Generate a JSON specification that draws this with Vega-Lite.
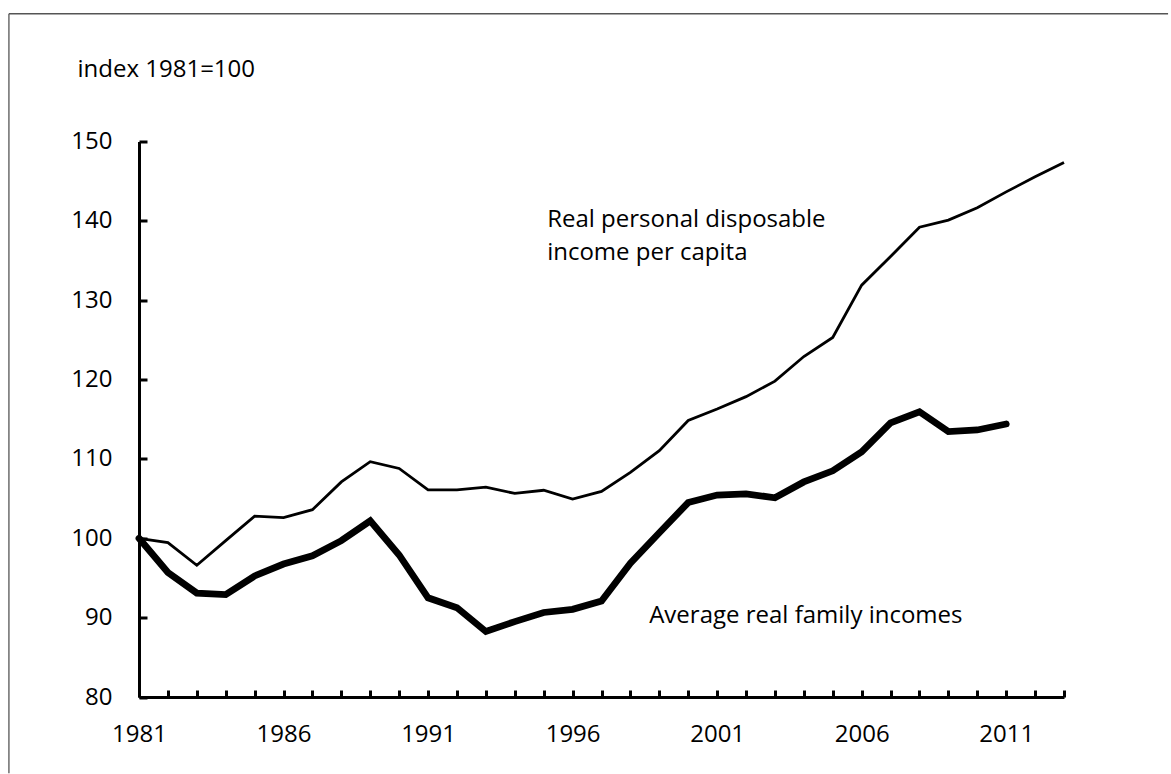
{
  "$schema": "https://vega.github.io/schema/vega-lite/v6.json",
  "width": 925,
  "height": 555.5,
  "autosize": {"type": "none"},
  "padding": {"left": 139, "top": 141.5, "right": 107, "bottom": 77},
  "background": "white",
  "config": {
    "view": {"stroke": null},
    "font": "Open Sans",
    "text": {"font": "Open Sans"}
  },
  "datasets": {
    "income": [
      {"year": 1981, "series": "disp", "value": 100},
      {"year": 1982, "series": "disp", "value": 99.45},
      {"year": 1983, "series": "disp", "value": 96.6},
      {"year": 1984, "series": "disp", "value": 99.7},
      {"year": 1985, "series": "disp", "value": 102.8},
      {"year": 1986, "series": "disp", "value": 102.6},
      {"year": 1987, "series": "disp", "value": 103.6},
      {"year": 1988, "series": "disp", "value": 107.1},
      {"year": 1989, "series": "disp", "value": 109.65},
      {"year": 1990, "series": "disp", "value": 108.8},
      {"year": 1991, "series": "disp", "value": 106.1},
      {"year": 1992, "series": "disp", "value": 106.1},
      {"year": 1993, "series": "disp", "value": 106.45},
      {"year": 1994, "series": "disp", "value": 105.65},
      {"year": 1995, "series": "disp", "value": 106.05},
      {"year": 1996, "series": "disp", "value": 104.95},
      {"year": 1997, "series": "disp", "value": 105.9},
      {"year": 1998, "series": "disp", "value": 108.3},
      {"year": 1999, "series": "disp", "value": 111.05},
      {"year": 2000, "series": "disp", "value": 114.85},
      {"year": 2001, "series": "disp", "value": 116.3},
      {"year": 2002, "series": "disp", "value": 117.85},
      {"year": 2003, "series": "disp", "value": 119.8},
      {"year": 2004, "series": "disp", "value": 122.9},
      {"year": 2005, "series": "disp", "value": 125.3},
      {"year": 2006, "series": "disp", "value": 131.9},
      {"year": 2007, "series": "disp", "value": 135.5},
      {"year": 2008, "series": "disp", "value": 139.2},
      {"year": 2009, "series": "disp", "value": 140.1},
      {"year": 2010, "series": "disp", "value": 141.65},
      {"year": 2011, "series": "disp", "value": 143.65},
      {"year": 2012, "series": "disp", "value": 145.55},
      {"year": 2013, "series": "disp", "value": 147.35},
      {"year": 1981, "series": "family", "value": 100},
      {"year": 1982, "series": "family", "value": 95.7},
      {"year": 1983, "series": "family", "value": 93.1},
      {"year": 1984, "series": "family", "value": 92.9},
      {"year": 1985, "series": "family", "value": 95.25},
      {"year": 1986, "series": "family", "value": 96.75},
      {"year": 1987, "series": "family", "value": 97.8},
      {"year": 1988, "series": "family", "value": 99.7},
      {"year": 1989, "series": "family", "value": 102.2},
      {"year": 1990, "series": "family", "value": 97.9},
      {"year": 1991, "series": "family", "value": 92.5},
      {"year": 1992, "series": "family", "value": 91.25},
      {"year": 1993, "series": "family", "value": 88.25},
      {"year": 1994, "series": "family", "value": 89.5},
      {"year": 1995, "series": "family", "value": 90.65},
      {"year": 1996, "series": "family", "value": 91.05},
      {"year": 1997, "series": "family", "value": 92.1},
      {"year": 1998, "series": "family", "value": 96.85},
      {"year": 1999, "series": "family", "value": 100.7},
      {"year": 2000, "series": "family", "value": 104.5},
      {"year": 2001, "series": "family", "value": 105.45},
      {"year": 2002, "series": "family", "value": 105.6},
      {"year": 2003, "series": "family", "value": 105.1},
      {"year": 2004, "series": "family", "value": 107.1},
      {"year": 2005, "series": "family", "value": 108.5},
      {"year": 2006, "series": "family", "value": 110.9},
      {"year": 2007, "series": "family", "value": 114.55},
      {"year": 2008, "series": "family", "value": 115.95},
      {"year": 2009, "series": "family", "value": 113.45},
      {"year": 2010, "series": "family", "value": 113.65},
      {"year": 2011, "series": "family", "value": 114.4}
    ],
    "labels": [
      {"name": "disp", "text": ["Real personal disposable", "income per capita"]},
      {"name": "family", "text": "Average real family incomes"}
    ]
  },
  "layer": [
    {
      "data": {"name": "income"},
      "transform": [{"filter": "datum.series == 'disp'"}],
      "mark": {"type": "line", "color": "black", "strokeWidth": 2.8, "clip": false},
      "encoding": {
        "x": {
          "field": "year",
          "type": "quantitative",
          "scale": {"domain": [1981, 2013], "nice": false, "zero": false},
          "axis": {
            "title": null,
            "grid": false,
            "values": [1981,1982,1983,1984,1985,1986,1987,1988,1989,1990,1991,1992,1993,1994,1995,1996,1997,1998,1999,2000,2001,2002,2003,2004,2005,2006,2007,2008,2009,2010,2011,2012,2013],
            "tickCount": 60,
            "labelExpr": "(datum.value - 1981) % 5 == 0 ? datum.label : ''",
            "format": "d",
            "labelFlush": false,
            "labelOverlap": false,
            "domainColor": "black",
            "domainWidth": 3,
            "tickColor": "black",
            "tickWidth": 3,
            "tickSize": -7,
            "labelFontSize": 24,
            "labelColor": "black",
            "labelPadding": 32
          }
        },
        "y": {
          "field": "value",
          "type": "quantitative",
          "scale": {"domain": [80, 150], "nice": false, "zero": false},
          "axis": {
            "values": [80, 90, 100, 110, 120, 130, 140, 150],
            "tickCount": 20,
            "grid": false,
            "domainColor": "black",
            "domainWidth": 3,
            "tickColor": "black",
            "tickWidth": 3,
            "tickSize": -8,
            "labelFontSize": 24,
            "labelColor": "black",
            "labelPadding": 35,
            "title": "index 1981=100",
            "titleAngle": 0,
            "titleAlign": "left",
            "titleBaseline": "alphabetic",
            "titleX": -62,
            "titleY": -65.5,
            "titleFontSize": 24,
            "titleFontWeight": "normal",
            "titleColor": "black",
            "titleFont": "Open Sans"
          }
        }
      }
    },
    {
      "data": {"name": "income"},
      "transform": [{"filter": "datum.series == 'family'"}],
      "mark": {"type": "line", "color": "black", "strokeWidth": 6.8, "strokeCap": "round", "clip": false},
      "encoding": {
        "x": {"field": "year", "type": "quantitative"},
        "y": {"field": "value", "type": "quantitative"}
      }
    },
    {
      "data": {"name": "labels"},
      "transform": [{"filter": "datum.name == 'disp'"}],
      "mark": {"type": "text", "align": "left", "baseline": "alphabetic", "fontSize": 24, "lineHeight": 33, "color": "black", "clip": false},
      "encoding": {
        "text": {"field": "text"},
        "x": {"datum": 1995.12, "type": "quantitative"},
        "y": {"datum": 139.26, "type": "quantitative"}
      }
    },
    {
      "data": {"name": "labels"},
      "transform": [{"filter": "datum.name == 'family'"}],
      "mark": {"type": "text", "align": "left", "baseline": "alphabetic", "fontSize": 24, "color": "black", "clip": false},
      "encoding": {
        "text": {"field": "text"},
        "x": {"datum": 1998.65, "type": "quantitative"},
        "y": {"datum": 89.36, "type": "quantitative"}
      }
    },
    {
      "data": {"name": "labels"},
      "transform": [{"filter": "datum.name == 'family'"}],
      "mark": {"type": "rule", "stroke": "#555555", "strokeWidth": 1.3, "clip": false},
      "encoding": {
        "x": {"datum": 1976.5, "type": "quantitative"},
        "x2": {"datum": 2016.6},
        "y": {"datum": 166.1, "type": "quantitative"}
      }
    },
    {
      "data": {"name": "labels"},
      "transform": [{"filter": "datum.name == 'family'"}],
      "mark": {"type": "rule", "stroke": "#555555", "strokeWidth": 1.3, "clip": false},
      "encoding": {
        "x": {"datum": 1976.5, "type": "quantitative"},
        "y": {"datum": 166.1, "type": "quantitative"},
        "y2": {"datum": 70.4}
      }
    }
  ]
}
